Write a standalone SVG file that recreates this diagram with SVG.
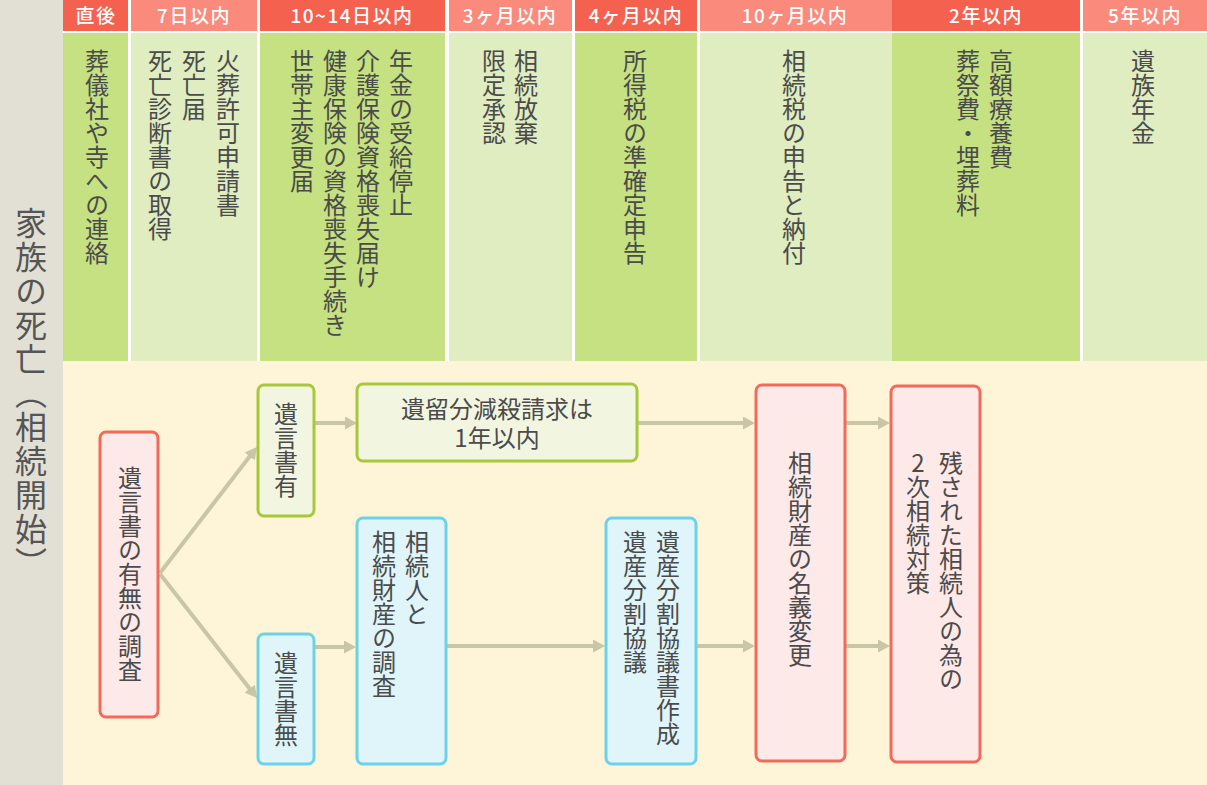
<svg xmlns="http://www.w3.org/2000/svg" width="1207" height="785" viewBox="0 0 1207 785">
<defs>
<style>
.t{font-family:"Noto Sans CJK JP","Noto Sans",sans-serif;fill:#4b4b4b;}
.v{writing-mode:vertical-rl;text-orientation:upright;font-size:24px;}
.h{font-family:"Noto Sans CJK JP","Noto Sans",sans-serif;fill:#ffffff;font-size:19px;font-weight:500;text-anchor:middle;letter-spacing:1.5px;}
.hd{fill:#f4614f;}
.hl{fill:#f98a7c;}
.gd{fill:#c5e181;}
.gl{fill:#dfedc1;}
.bp{fill:#fde9e8;stroke:#f26a5a;stroke-width:3;}
.bg{fill:#f2f6e1;stroke:#a8c83c;stroke-width:3;}
.bb{fill:#dff5fa;stroke:#6dd1e8;stroke-width:3;}
.c{stroke:#c9c6a6;stroke-width:4;fill:none;marker-end:url(#ah);}
</style>
<marker id="ah" markerUnits="userSpaceOnUse" markerWidth="12" markerHeight="13" refX="4" refY="6.5" orient="auto" viewBox="0 0 12 13">
<path d="M0,0 L12,6.5 L0,13 z" fill="#c9c6a6"/>
</marker>
</defs>
<rect x="0" y="0" width="1207" height="785" fill="#ffffff"/>
<rect x="0" y="0" width="63" height="785" fill="#e2e0d4"/>
<rect x="63" y="361" width="1144" height="424" fill="#fef4d8"/>

<g id="start">
<text class="t" x="31" y="207" style="writing-mode:vertical-rl;text-orientation:upright;font-size:32px;letter-spacing:2px;fill:#555555">家族の死亡（相続開始）</text>
</g>

<g id="col-chokugo">
<rect class="hd" x="63" y="0" width="65" height="31"/>
<rect class="gd" x="63" y="33" width="65" height="328"/>
<text class="h" x="96" y="23">直後</text>
<text class="t v" x="97" y="49">葬儀社や寺への連絡</text>
</g>
<g id="col-7days">
<rect class="hl" x="131" y="0" width="126" height="31"/>
<rect class="gl" x="131" y="33" width="126" height="328"/>
<text class="h" x="194" y="23">7日以内</text>
<text class="t v" x="228" y="49">火葬許可申請書</text>
<text class="t v" x="194" y="49">死亡届</text>
<text class="t v" x="160" y="49">死亡診断書の取得</text>
</g>
<g id="col-14days">
<rect class="hd" x="260" y="0" width="185" height="31"/>
<rect class="gd" x="260" y="33" width="185" height="328"/>
<text class="h" x="352" y="23">10~14日以内</text>
<text class="t v" x="401" y="49">年金の受給停止</text>
<text class="t v" x="368" y="49">介護保険資格喪失届け</text>
<text class="t v" x="335" y="49">健康保険の資格喪失手続き</text>
<text class="t v" x="302" y="49">世帯主変更届</text>
</g>
<g id="col-3months">
<rect class="hl" x="449" y="0" width="123" height="31"/>
<rect class="gl" x="449" y="33" width="123" height="328"/>
<text class="h" x="510" y="23">3ヶ月以内</text>
<text class="t v" x="526" y="49">相続放棄</text>
<text class="t v" x="494" y="49">限定承認</text>
</g>
<g id="col-4months">
<rect class="hd" x="575" y="0" width="122" height="31"/>
<rect class="gd" x="575" y="33" width="122" height="328"/>
<text class="h" x="636" y="23">4ヶ月以内</text>
<text class="t v" x="635" y="49">所得税の準確定申告</text>
</g>
<g id="col-10months">
<rect class="hl" x="700" y="0" width="192" height="31"/>
<rect class="gl" x="700" y="33" width="192" height="328"/>
<text class="h" x="795" y="23">10ヶ月以内</text>
<text class="t v" x="794" y="49">相続税の申告と納付</text>
</g>
<g id="col-2years">
<rect class="hd" x="892" y="0" width="188" height="31"/>
<rect class="gd" x="892" y="33" width="188" height="328"/>
<text class="h" x="986" y="23">2年以内</text>
<text class="t v" x="1001" y="49">高額療養費</text>
<text class="t v" x="968" y="49">葬祭費・埋葬料</text>
</g>
<g id="col-5years">
<rect class="hl" x="1083" y="0" width="124" height="31"/>
<rect class="gl" x="1083" y="33" width="124" height="328"/>
<text class="h" x="1145" y="23">5年以内</text>
<text class="t v" x="1143" y="49">遺族年金</text>
</g>

<g id="connectors">
<line class="c" x1="160" y1="573" x2="252.1" y2="453.3"/>
<line class="c" x1="160" y1="574" x2="252.1" y2="691.7"/>
<line class="c" x1="314" y1="423" x2="349" y2="423"/>
<line class="c" x1="637" y1="423" x2="747" y2="423"/>
<line class="c" x1="845" y1="423" x2="882" y2="423"/>
<line class="c" x1="314" y1="647" x2="348" y2="647"/>
<line class="c" x1="446" y1="646" x2="597" y2="646"/>
<line class="c" x1="696" y1="646" x2="747" y2="646"/>
<line class="c" x1="845" y1="646" x2="882" y2="646"/>
</g>

<g id="will-check">
<rect class="bp" x="100" y="432" width="58" height="285" rx="6"/>
<text class="t v" x="130" y="466">遺言書の有無の調査</text>
</g>
<g id="will-yes">
<rect class="bg" x="258" y="385" width="56" height="131" rx="6"/>
<text class="t v" x="286" y="402">遺言書有</text>
</g>
<g id="will-no">
<rect class="bb" x="258" y="634" width="56" height="130" rx="6"/>
<text class="t v" x="286" y="651">遺言書無</text>
</g>
<g id="iryubun">
<rect class="bg" x="357" y="384" width="280" height="77" rx="6"/>
<text class="t" font-size="24" text-anchor="middle"><tspan x="497" y="418">遺留分減殺請求は</tspan><tspan x="497" y="447">1年以内</tspan></text>
</g>
<g id="heir-survey">
<rect class="bb" x="357" y="518" width="89" height="246" rx="6"/>
<text class="t v" x="417" y="530">相続人と</text>
<text class="t v" x="384" y="530">相続財産の調査</text>
</g>
<g id="division">
<rect class="bb" x="606" y="518" width="90" height="246" rx="6"/>
<text class="t v" x="668" y="530">遺産分割協議書作成</text>
<text class="t v" x="635" y="530">遺産分割協議</text>
</g>
<g id="title-change">
<rect class="bp" x="756" y="385" width="89" height="376" rx="6"/>
<text class="t v" x="800" y="451">相続財産の名義変更</text>
</g>
<g id="secondary">
<rect class="bp" x="891" y="386" width="89" height="376" rx="6"/>
<text class="t v" x="951" y="451">残された相続人の為の</text>
<text class="t v" x="918" y="451">2次相続対策</text>
</g>
</svg>
